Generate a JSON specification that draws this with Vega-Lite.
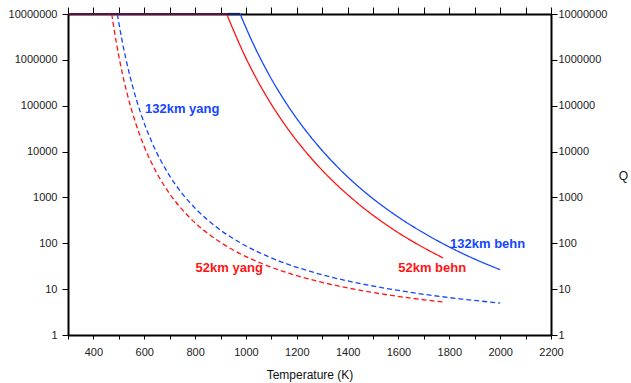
{
  "$schema": "https://vega.github.io/schema/vega-lite/v6.json",
  "width": 483,
  "height": 321,
  "autosize": {"type": "none"},
  "padding": {"left": 68, "top": 14, "right": 80, "bottom": 48},
  "background": "white",
  "config": {
    "font": "Liberation Sans",
    "view": {"stroke": null},
    "axis": {
      "grid": false,
      "domainColor": "black",
      "domainWidth": 2,
      "tickColor": "black",
      "tickWidth": 1,
      "labelFont": "Liberation Sans",
      "labelFontSize": 11,
      "labelColor": "#222222",
      "titleFont": "Liberation Sans",
      "titleFontSize": 12,
      "titleFontWeight": "normal",
      "titleColor": "#111111"
    }
  },
  "datasets": {
    "curves": [
      {"series": "52km yang", "T": 472, "Q": 10000000},
      {"series": "52km yang", "T": 490, "Q": 2390000},
      {"series": "52km yang", "T": 507, "Q": 764000},
      {"series": "52km yang", "T": 530, "Q": 209000},
      {"series": "52km yang", "T": 566, "Q": 42000},
      {"series": "52km yang", "T": 600, "Q": 12800},
      {"series": "52km yang", "T": 651, "Q": 3270},
      {"series": "52km yang", "T": 700, "Q": 1200},
      {"series": "52km yang", "T": 767, "Q": 424},
      {"series": "52km yang", "T": 850, "Q": 164},
      {"series": "52km yang", "T": 950, "Q": 71.3},
      {"series": "52km yang", "T": 1068, "Q": 35.1},
      {"series": "52km yang", "T": 1213, "Q": 18.8},
      {"series": "52km yang", "T": 1370, "Q": 11.5},
      {"series": "52km yang", "T": 1527, "Q": 7.98},
      {"series": "52km yang", "T": 1650, "Q": 6.35},
      {"series": "52km yang", "T": 1776, "Q": 5.23},

      {"series": "132km yang", "T": 494, "Q": 10000000},
      {"series": "132km yang", "T": 510, "Q": 3160000},
      {"series": "132km yang", "T": 528, "Q": 1030000},
      {"series": "132km yang", "T": 555, "Q": 254000},
      {"series": "132km yang", "T": 587, "Q": 66100},
      {"series": "132km yang", "T": 630, "Q": 16000},
      {"series": "132km yang", "T": 695, "Q": 3270},
      {"series": "132km yang", "T": 750, "Q": 1200},
      {"series": "132km yang", "T": 806, "Q": 538},
      {"series": "132km yang", "T": 880, "Q": 234},
      {"series": "132km yang", "T": 980, "Q": 101},
      {"series": "132km yang", "T": 1100, "Q": 48},
      {"series": "132km yang", "T": 1250, "Q": 24.6},
      {"series": "132km yang", "T": 1400, "Q": 15.1},
      {"series": "132km yang", "T": 1550, "Q": 10.4},
      {"series": "132km yang", "T": 1700, "Q": 7.71},
      {"series": "132km yang", "T": 1850, "Q": 6.07},
      {"series": "132km yang", "T": 2000, "Q": 4.98},

      {"series": "52km behn", "T": 924, "Q": 10000000},
      {"series": "52km behn", "T": 1000, "Q": 1090000},
      {"series": "52km behn", "T": 1029, "Q": 522000},
      {"series": "52km behn", "T": 1080, "Q": 163000},
      {"series": "52km behn", "T": 1160, "Q": 34000},
      {"series": "52km behn", "T": 1230, "Q": 10700},
      {"series": "52km behn", "T": 1311, "Q": 3370},
      {"series": "52km behn", "T": 1400, "Q": 1150},
      {"series": "52km behn", "T": 1462, "Q": 592},
      {"series": "52km behn", "T": 1527, "Q": 318},
      {"series": "52km behn", "T": 1593, "Q": 179},
      {"series": "52km behn", "T": 1680, "Q": 91.8},
      {"series": "52km behn", "T": 1776, "Q": 47.8},

      {"series": "132km behn", "T": 977, "Q": 10000000},
      {"series": "132km behn", "T": 1030, "Q": 2160000},
      {"series": "132km behn", "T": 1082, "Q": 583000},
      {"series": "132km behn", "T": 1150, "Q": 134000},
      {"series": "132km behn", "T": 1213, "Q": 41700},
      {"series": "132km behn", "T": 1290, "Q": 12200},
      {"series": "132km behn", "T": 1386, "Q": 3340},
      {"series": "132km behn", "T": 1480, "Q": 1150},
      {"series": "132km behn", "T": 1580, "Q": 441},
      {"series": "132km behn", "T": 1724, "Q": 140},
      {"series": "132km behn", "T": 1803, "Q": 81.5},
      {"series": "132km behn", "T": 1900, "Q": 45.2},
      {"series": "132km behn", "T": 2000, "Q": 26.5}
    ],
    "top": [
      {"part": "all curves", "T": 300, "Q": 10000000},
      {"part": "all curves", "T": 924, "Q": 10000000},
      {"part": "132km behn only", "T": 924, "Q": 10000000},
      {"part": "132km behn only", "T": 977, "Q": 10000000}
    ],
    "labels": [
      {"series": "132km yang", "T": 603, "Q": 85000},
      {"series": "52km yang", "T": 802, "Q": 28.8},
      {"series": "52km behn", "T": 1599, "Q": 28.8},
      {"series": "132km behn", "T": 1803, "Q": 97.5}
    ]
  },
  "layer": [
    {
      "data": {"name": "curves"},
      "mark": {"type": "line", "interpolate": "monotone", "strokeWidth": 1.3},
      "encoding": {
        "x": {
          "field": "T", "type": "quantitative",
          "scale": {"domain": [300, 2200], "nice": false, "zero": false},
          "axis": {
            "orient": "bottom",
            "title": "Temperature (K)",
            "values": [300, 400, 500, 600, 700, 800, 900, 1000, 1100, 1200, 1300, 1400, 1500, 1600, 1700, 1800, 1900, 2000, 2100, 2200],
            "labelExpr": "datum.value % 200 == 0 ? datum.value : ''",
            "tickSize": 4,
            "labelPadding": 7,
            "titlePadding": 12,
            "labelFlush": false,
            "labelOverlap": false
          }
        },
        "y": {
          "field": "Q", "type": "quantitative",
          "scale": {"type": "log", "domain": [1, 10000000], "nice": false},
          "axis": {
            "orient": "left",
            "title": null,
            "values": [1, 10, 100, 1000, 10000, 100000, 1000000, 10000000],
            "format": "d",
            "tickSize": 6,
            "labelPadding": 5,
            "labelFlush": false,
            "labelOverlap": false
          }
        },
        "color": {
          "field": "series", "type": "nominal",
          "scale": {"domain": ["52km yang", "132km yang", "52km behn", "132km behn"], "range": ["#ff1414", "#1446ff", "#ff1414", "#1446ff"]},
          "legend": null
        },
        "strokeDash": {
          "field": "series", "type": "nominal",
          "scale": {"domain": ["52km yang", "132km yang", "52km behn", "132km behn"], "range": [[5, 3], [5, 3], [1, 0], [1, 0]]},
          "legend": null
        }
      }
    },
    {
      "data": {"name": "top"},
      "mark": {"type": "line", "strokeWidth": 2.2},
      "encoding": {
        "x": {"field": "T", "type": "quantitative", "axis": null},
        "y": {"field": "Q", "type": "quantitative", "axis": null},
        "stroke": {
          "field": "part", "type": "nominal",
          "scale": {"domain": ["all curves", "132km behn only"], "range": ["#5c1242", "#10206e"]},
          "legend": null
        }
      }
    },
    {
      "data": {"name": "labels"},
      "mark": {"type": "text", "align": "left", "baseline": "middle", "fontSize": 13, "fontWeight": "bold", "font": "Liberation Sans"},
      "encoding": {
        "x": {
          "field": "T", "type": "quantitative",
          "axis": {
            "orient": "top",
            "title": null,
            "values": [300, 400, 500, 600, 700, 800, 900, 1000, 1100, 1200, 1300, 1400, 1500, 1600, 1700, 1800, 1900, 2000, 2100, 2200],
            "labels": false,
            "tickSize": 7
          }
        },
        "y": {
          "field": "Q", "type": "quantitative",
          "axis": {
            "orient": "right",
            "title": "Q",
            "titleAngle": 0,
            "titleX": 72,
            "titleY": 161,
            "titleAlign": "center",
            "titleBaseline": "middle",
            "values": [1, 10, 100, 1000, 10000, 100000, 1000000, 10000000],
            "format": "d",
            "tickSize": 6,
            "labelPadding": 1,
            "labelFlush": false,
            "labelOverlap": false
          }
        },
        "text": {"field": "series", "type": "nominal"},
        "color": {"field": "series", "type": "nominal", "legend": null}
      }
    }
  ],
  "resolve": {"axis": {"x": "independent", "y": "independent"}, "scale": {"stroke": "independent"}}
}
